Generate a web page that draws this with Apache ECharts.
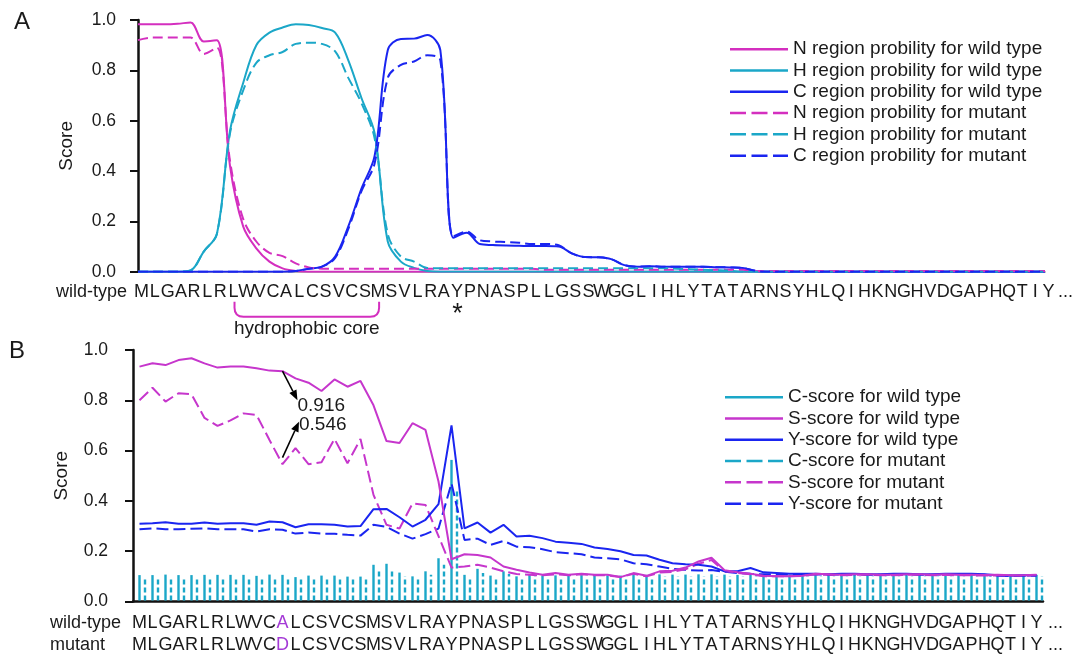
<!DOCTYPE html>
<html>
<head>
<meta charset="utf-8">
<script src="https://cdn.jsdelivr.net/npm/echarts@6/dist/echarts.min.js"></script>
<style>
html, body { margin: 0; padding: 0; background: #ffffff; }
#chart { width: 1081px; height: 654px; }
</style>
</head>
<body>
<div id="chart"></div>
<script>
// ---------------- sequences (x tick labels) ----------------
const wildType = ['M','L','G','A','R','L','R','L','W','V',
                  'C','A','L','C','S','V','C','S','M','S',
                  'V','L','R','A','Y','P','N','A','S','P',
                  'L','L','G','S','S','W','G','G','L','I',
                  'H','L','Y','T','A','T','A','R','N','S',
                  'Y','H','L','Q','I','H','K','N','G','H',
                  'V','D','G','A','P','H','Q','T','I','Y'];
const mutantSeq = ['M','L','G','A','R','L','R','L','W','V',
                   'C','D','L','C','S','V','C','S','M','S',
                   'V','L','R','A','Y','P','N','A','S','P',
                   'L','L','G','S','S','W','G','G','L','I',
                   'H','L','Y','T','A','T','A','R','N','S',
                   'Y','H','L','Q','I','H','K','N','G','H',
                   'V','D','G','A','P','H','Q','T','I','Y'];
const yTickLabels = ['0.0', '0.2', '0.4', '0.6', '0.8', '1.0'];

// ---------------- Panel A : region probabilities ----------------
const nRegionWild = [0.983,0.983,0.983,0.985,0.99,0.915,0.92,0.42,0.18,0.093,
                     0.04,0.013,0.003,0,0,0,0,0,0,0,
                     0,0,0,0,0,0,0,0,0,0,
                     0,0,0,0,0,0,0,0,0,0,
                     0,0,0,0,0,0,0,0,0,0,
                     0,0,0,0,0,0,0,0,0,0,
                     0,0,0,0,0,0,0,0,0,0];
const hRegionWild = [0,0,0,0,0.005,0.08,0.15,0.56,0.75,0.9,
                     0.95,0.97,0.983,0.98,0.968,0.95,0.84,0.69,0.55,0.12,
                     0.04,0.015,0.003,0,0,0,0,0,0,0,
                     0,0,0,0,0,0,0,0,0,0,
                     0,0,0,0,0,0,0,0,0,0,
                     0,0,0,0,0,0,0,0,0,0,
                     0,0,0,0,0,0,0,0,0,0];
const cRegionWild = [0,0,0,0,0,0,0,0,0,0,
                     0,0,0.003,0.012,0.02,0.06,0.18,0.33,0.46,0.88,
                     0.925,0.926,0.94,0.88,0.135,0.155,0.11,0.106,0.104,0.103,
                     0.102,0.102,0.1,0.073,0.058,0.057,0.05,0.026,0.02,0.022,
                     0.02,0.02,0.02,0.02,0.018,0.017,0.015,0.003,0,0,
                     0,0,0,0,0,0,0,0,0,0,
                     0,0,0,0,0,0,0,0,0,0];
const nRegionMutant = [0.92,0.93,0.93,0.93,0.93,0.865,0.89,0.44,0.21,0.12,
                       0.075,0.062,0.033,0.017,0.012,0.012,0.012,0.012,0.012,0.012,
                       0.012,0.012,0.012,0.012,0.012,0.012,0.012,0.012,0.012,0.012,
                       0.012,0.008,0.008,0.008,0.008,0.008,0.008,0.008,0.008,0.008,
                       0.008,0.008,0.008,0.008,0.008,0.008,0.008,0.003,0.003,0.003,
                       0.003,0.003,0.003,0.003,0.003,0.003,0.003,0.003,0.003,0.003,
                       0.003,0.003,0.003,0.003,0.003,0.003,0.003,0.003,0.003,0.003];
const hRegionMutant = [0,0,0,0,0.005,0.08,0.15,0.55,0.72,0.83,
                       0.86,0.873,0.905,0.91,0.905,0.875,0.77,0.67,0.53,0.15,
                       0.06,0.04,0.015,0.014,0.014,0.014,0.014,0.014,0.014,0.014,
                       0.014,0.014,0.014,0.014,0.014,0.014,0.014,0.014,0.014,0.014,
                       0.014,0.012,0.01,0.008,0.006,0.004,0,0,0,0,
                       0,0,0,0,0,0,0,0,0,0,
                       0,0,0,0,0,0,0,0,0,0];
const cRegionMutant = [0,0,0,0,0,0,0,0,0,0,
                       0,0,0.003,0.012,0.02,0.055,0.17,0.32,0.43,0.77,
                       0.822,0.835,0.86,0.84,0.14,0.16,0.125,0.12,0.118,0.115,
                       0.11,0.11,0.105,0.073,0.058,0.057,0.05,0.026,0.02,0.022,
                       0.02,0.02,0.02,0.02,0.018,0.017,0.015,0.003,0,0,
                       0,0,0,0,0,0,0,0,0,0,
                       0,0,0,0,0,0,0,0,0,0];

// ---------------- Panel B : C / S / Y scores ----------------
const cScoreWild = [0.105,0.105,0.107,0.105,0.105,0.106,0.106,0.106,0.106,0.102,
                    0.107,0.106,0.097,0.103,0.103,0.103,0.099,0.099,0.146,0.15,
                    0.115,0.1,0.12,0.172,0.563,0.106,0.13,0.103,0.12,0.1,
                    0.109,0.104,0.104,0.104,0.105,0.104,0.104,0.103,0.106,0.106,
                    0.108,0.107,0.107,0.108,0.108,0.107,0.106,0.107,0.107,0.106,
                    0.106,0.107,0.106,0.106,0.107,0.106,0.106,0.107,0.106,0.106,
                    0.107,0.106,0.106,0.107,0.106,0.106,0.106,0.107,0.106,0.106];
const sScoreWild = [0.934,0.947,0.94,0.96,0.967,0.947,0.93,0.934,0.934,0.927,
                    0.918,0.916,0.887,0.87,0.837,0.883,0.854,0.877,0.78,0.638,
                    0.63,0.709,0.682,0.477,0.168,0.188,0.185,0.175,0.139,0.126,
                    0.115,0.106,0.113,0.106,0.11,0.106,0.106,0.097,0.113,0.102,
                    0.12,0.122,0.135,0.159,0.174,0.124,0.116,0.11,0.102,0.1,
                    0.1,0.102,0.11,0.108,0.106,0.108,0.108,0.106,0.106,0.108,
                    0.108,0.106,0.108,0.106,0.106,0.105,0.106,0.104,0.104,0.106];
const yScoreWild = [0.309,0.311,0.315,0.309,0.309,0.314,0.309,0.311,0.311,0.305,
                    0.318,0.315,0.295,0.307,0.307,0.305,0.298,0.3,0.367,0.368,
                    0.335,0.298,0.325,0.387,0.7,0.291,0.314,0.274,0.305,0.258,
                    0.261,0.252,0.238,0.234,0.229,0.215,0.209,0.2,0.185,0.183,
                    0.166,0.152,0.148,0.146,0.139,0.12,0.12,0.133,0.116,0.113,
                    0.11,0.11,0.11,0.108,0.11,0.11,0.108,0.108,0.11,0.11,
                    0.108,0.108,0.11,0.11,0.11,0.108,0.104,0.103,0.104,0.104];
const cScoreMutant = [0.095,0.095,0.097,0.095,0.095,0.096,0.095,0.096,0.095,0.093,
                      0.096,0.095,0.09,0.094,0.094,0.094,0.091,0.091,0.126,0.13,
                      0.1,0.095,0.106,0.146,0.44,0.095,0.113,0.095,0.109,0.095,
                      0.1,0.097,0.097,0.097,0.098,0.097,0.097,0.096,0.099,0.099,
                      0.1,0.1,0.1,0.1,0.1,0.1,0.1,0.1,0.1,0.1,
                      0.1,0.1,0.1,0.1,0.1,0.1,0.1,0.1,0.1,0.1,
                      0.1,0.1,0.1,0.1,0.1,0.1,0.1,0.1,0.1,0.1];
const sScoreMutant = [0.8,0.85,0.795,0.828,0.824,0.73,0.698,0.72,0.748,0.742,
                      0.642,0.546,0.61,0.546,0.554,0.646,0.55,0.646,0.424,0.305,
                      0.29,0.39,0.384,0.26,0.135,0.139,0.146,0.135,0.12,0.109,
                      0.106,0.104,0.108,0.104,0.108,0.104,0.104,0.097,0.11,0.1,
                      0.115,0.118,0.128,0.15,0.165,0.12,0.114,0.108,0.1,0.1,
                      0.1,0.102,0.108,0.106,0.104,0.106,0.106,0.104,0.104,0.106,
                      0.106,0.104,0.106,0.104,0.104,0.103,0.104,0.102,0.102,0.104];
const yScoreMutant = [0.287,0.291,0.287,0.287,0.289,0.291,0.287,0.287,0.287,0.278,
                      0.287,0.285,0.27,0.274,0.27,0.269,0.265,0.262,0.305,0.297,
                      0.27,0.25,0.268,0.29,0.47,0.245,0.25,0.225,0.241,0.218,
                      0.216,0.208,0.196,0.192,0.188,0.175,0.172,0.168,0.152,0.148,
                      0.139,0.13,0.126,0.123,0.125,0.118,0.113,0.11,0.108,0.108,
                      0.106,0.106,0.108,0.106,0.108,0.108,0.106,0.106,0.108,0.108,
                      0.106,0.106,0.108,0.108,0.108,0.106,0.102,0.101,0.102,0.102];

// ---------------- annotations ----------------
const hydrophobicCore = [7, 18];      // residue indices L7 .. M18
const cleavageSite = 24;              // Y marked with *
const mutationIndex = 11;             // A12D
const mutationScores = [0.916, 0.546];
const mutationLabels = ['0.916', '0.546'];

// ---------------- styling ----------------
const FONT = '"Liberation Sans", Arial, Helvetica, sans-serif';
const TXT = '#1a1a1a';
const MAG_A = '#d42fbf';
const MAG_B = '#c636cc';
const CYAN = '#1ba7c8';
const BLUE = '#1a25f0';
const PURPLE = '#a43ad6';
const SOLID_ICON = 'path://M0 0H58V2.5H0Z';
const DASH_ICON = 'path://M0 0H16V2.5H0Z M21.5 0H37.5V2.5H21.5Z M43 0H58V2.5H43Z';

const idx = wildType.map((c, i) => String(i));

function lineA(name, data, color, dashed) {
  return {
    type: 'line', name: name, xAxisIndex: 0, yAxisIndex: 0, data: data,
    symbol: 'none', smooth: 0.35, z: 3,
    itemStyle: { color: color },
    lineStyle: { color: color, width: 2, type: dashed ? [10, 5] : 'solid' },
    emphasis: { disabled: true }
  };
}
function lineB(name, data, color, dashed) {
  return {
    type: 'line', name: name, xAxisIndex: 1, yAxisIndex: 1, data: data,
    symbol: 'none', smooth: false, z: 3,
    itemStyle: { color: color },
    lineStyle: { color: color, width: 2, type: dashed ? [12, 5] : 'solid' },
    emphasis: { disabled: true }
  };
}
function cBars(name, data, dx, dash) {
  return {
    type: 'custom', name: name, xAxisIndex: 1, yAxisIndex: 1, z: 2,
    itemStyle: { color: CYAN },
    data: data.map((v, i) => [i, v]),
    encode: { x: 0, y: 1 },
    renderItem: function (params, api) {
      const i = params.dataIndex;
      const v = api.value(1);
      const p0 = api.coord([i, 0]);
      const p1 = api.coord([i, v]);
      return {
        type: 'line',
        shape: { x1: p0[0] + dx, y1: p0[1] - 1, x2: p1[0] + dx, y2: p1[1] },
        style: { stroke: CYAN, lineWidth: 2.4, lineDash: dash }
      };
    }
  };
}
function arrow(x1, y1, x2, y2) {
  const dx = x2 - x1, dy = y2 - y1, L = Math.hypot(dx, dy);
  const ux = dx / L, uy = dy / L, nx = -uy, ny = ux;
  const bx = x2 - ux * 10, by = y2 - uy * 10;
  return [
    { type: 'line', shape: { x1: x1, y1: y1, x2: bx, y2: by }, style: { stroke: '#000', lineWidth: 1.6 } },
    { type: 'polygon', shape: { points: [[x2, y2], [bx + nx * 4, by + ny * 4], [bx - nx * 4, by - ny * 4]] }, style: { fill: '#000' } }
  ];
}

const yAxisCommon = {
  type: 'value', min: 0, max: 1, interval: 0.2,
  name: 'Score', nameLocation: 'middle', nameGap: 62,
  nameTextStyle: { fontSize: 19, color: TXT, fontFamily: FONT },
  axisLine: { show: true, lineStyle: { color: '#111', width: 2.5 } },
  axisTick: { show: true, length: 8, lineStyle: { color: '#111', width: 2 } },
  splitLine: { show: false },
  axisLabel: { fontSize: 17.5, color: TXT, fontFamily: FONT,
               formatter: v => yTickLabels[Math.round(v / 0.2)] }
};

const legendCommon = {
  orient: 'vertical', itemWidth: 58, itemHeight: 2.5, itemGap: 0, padding: 0,
  selectedMode: false,
  itemStyle: { borderWidth: 0 },
  textStyle: { fontSize: 19, lineHeight: 21.3, color: TXT, fontFamily: FONT }
};

const chart = echarts.init(document.getElementById('chart'), null, { renderer: 'canvas' });

const option = {
  animation: false,
  backgroundColor: '#ffffff',
  textStyle: { fontFamily: FONT },
  grid: [
    { left: 138, top: 20, width: 907, height: 251.7 },
    { left: 133, top: 350, width: 910, height: 251.7 }
  ],
  xAxis: [
    {
      gridIndex: 0, type: 'category', data: idx, boundaryGap: false,
      axisLine: { lineStyle: { color: '#b3b3b3', width: 2 } },
      axisTick: { show: false },
      splitLine: { show: false },
      axisLabel: {
        interval: 0, margin: 9, fontSize: 18, color: TXT, fontFamily: FONT,
        formatter: (v, i) => '{w|' + wildType[i] + '}',
        rich: { w: { fontSize: 18, lineHeight: 22, color: TXT, fontFamily: FONT, padding: [0, 0, 0, 7] } }
      }
    },
    {
      gridIndex: 1, type: 'category', data: idx, boundaryGap: true,
      axisLine: { lineStyle: { color: '#111', width: 2.5 } },
      axisTick: { show: false },
      splitLine: { show: false },
      axisLabel: {
        interval: 0, margin: 10.5, fontSize: 18, color: TXT, fontFamily: FONT,
        formatter: (v, i) => wildType[i] !== mutantSeq[i]
          ? '{p|' + wildType[i] + '}\n{p|' + mutantSeq[i] + '}'
          : '{w|' + wildType[i] + '}\n{w|' + mutantSeq[i] + '}',
        rich: {
          w: { fontSize: 18, lineHeight: 22, color: TXT, fontFamily: FONT },
          p: { fontSize: 18, lineHeight: 22, color: PURPLE, fontFamily: FONT }
        }
      }
    }
  ],
  yAxis: [
    Object.assign({ gridIndex: 0 }, yAxisCommon, { axisLabel: Object.assign({}, yAxisCommon.axisLabel, { margin: 22 }) }),
    Object.assign({ gridIndex: 1 }, yAxisCommon, { axisLabel: Object.assign({}, yAxisCommon.axisLabel, { margin: 25 }) })
  ],
  legend: [
    Object.assign({}, legendCommon, {
      left: 730, top: 38.5,
      data: [
        { name: 'N region probility for wild type', icon: SOLID_ICON },
        { name: 'H region probility for wild type', icon: SOLID_ICON },
        { name: 'C region probility for wild type', icon: SOLID_ICON },
        { name: 'N region probility for mutant', icon: DASH_ICON },
        { name: 'H region probility for mutant', icon: DASH_ICON },
        { name: 'C region probility for mutant', icon: DASH_ICON }
      ]
    }),
    Object.assign({}, legendCommon, {
      left: 725, top: 386.5,
      data: [
        { name: 'C-score for wild type', icon: SOLID_ICON },
        { name: 'S-score for wild type', icon: SOLID_ICON },
        { name: 'Y-score for wild type', icon: SOLID_ICON },
        { name: 'C-score for mutant', icon: DASH_ICON },
        { name: 'S-score for mutant', icon: DASH_ICON },
        { name: 'Y-score for mutant', icon: DASH_ICON }
      ]
    })
  ],
  graphic: [
    { type: 'text', left: 14, top: 10, style: { text: 'A', font: '24px ' + FONT, fill: TXT } },
    { type: 'text', left: 9, top: 339, style: { text: 'B', font: '24px ' + FONT, fill: TXT } },
    { type: 'text', x: 127, y: 292, style: { text: 'wild-type', font: '18px ' + FONT, fill: TXT, align: 'right', verticalAlign: 'middle' } },
    { type: 'text', x: 1058, y: 292, style: { text: '...', font: '18px ' + FONT, fill: TXT, align: 'left', verticalAlign: 'middle' } },
    { type: 'text', x: 50, y: 623.5, style: { text: 'wild-type', font: '18px ' + FONT, fill: TXT, align: 'left', verticalAlign: 'middle' } },
    { type: 'text', x: 50, y: 645.5, style: { text: 'mutant', font: '18px ' + FONT, fill: TXT, align: 'left', verticalAlign: 'middle' } },
    { type: 'text', x: 1048, y: 623.5, style: { text: '...', font: '18px ' + FONT, fill: TXT, align: 'left', verticalAlign: 'middle' } },
    { type: 'text', x: 1048, y: 645.5, style: { text: '...', font: '18px ' + FONT, fill: TXT, align: 'left', verticalAlign: 'middle' } }
  ],
  series: [
    lineA('N region probility for wild type', nRegionWild, MAG_A, false),
    lineA('H region probility for wild type', hRegionWild, CYAN, false),
    lineA('C region probility for wild type', cRegionWild, BLUE, false),
    lineA('N region probility for mutant', nRegionMutant, MAG_A, true),
    lineA('H region probility for mutant', hRegionMutant, CYAN, true),
    lineA('C region probility for mutant', cRegionMutant, BLUE, true),
    // panel A annotations: hydrophobic core bracket and cleavage asterisk
    {
      type: 'custom', xAxisIndex: 0, yAxisIndex: 0, silent: true, z: 5,
      data: [[hydrophobicCore[0], 0]],
      renderItem: function (params, api) {
        const a = api.coord([hydrophobicCore[0], 0]);
        const b = api.coord([hydrophobicCore[1], 0]);
        const s = api.coord([cleavageSite, 0]);
        const x1 = a[0] + 4.5, x2 = b[0] + 4.5, y0 = a[1] + 30, y1 = a[1] + 45, r = 9;
        return {
          type: 'group',
          children: [
            { type: 'path',
              shape: { pathData: 'M' + x1 + ' ' + y0 + ' L' + x1 + ' ' + (y1 - r) + ' Q' + x1 + ' ' + y1 + ' ' + (x1 + r) + ' ' + y1 +
                                 ' L' + (x2 - r) + ' ' + y1 + ' Q' + x2 + ' ' + y1 + ' ' + x2 + ' ' + (y1 - r) + ' L' + x2 + ' ' + y0 },
              style: { stroke: MAG_A, lineWidth: 2, fill: 'none' } },
            { type: 'text', x: (x1 + x2) / 2, y: a[1] + 57,
              style: { text: 'hydrophobic core', font: '19px ' + FONT, fill: TXT, align: 'center', verticalAlign: 'middle' } },
            { type: 'text', x: s[0] + 4, y: a[1] + 43,
              style: { text: '*', font: '27px ' + FONT, fill: TXT, align: 'center', verticalAlign: 'middle' } }
          ]
        };
      }
    },
    // panel B
    cBars('C-score for wild type', cScoreWild, 0, null),
    cBars('C-score for mutant', cScoreMutant, 5.5, [5, 3]),
    lineB('Y-score for mutant', yScoreMutant, BLUE, true),
    lineB('S-score for mutant', sScoreMutant, MAG_B, true),
    lineB('Y-score for wild type', yScoreWild, BLUE, false),
    lineB('S-score for wild type', sScoreWild, MAG_B, false),
    // panel B annotations: arrows to the mutated residue scores
    {
      type: 'custom', xAxisIndex: 1, yAxisIndex: 1, silent: true, z: 6,
      data: [[mutationIndex, mutationScores[0], mutationScores[1]]],
      renderItem: function (params, api) {
        const p = api.coord([mutationIndex, mutationScores[0]]);
        const q = api.coord([mutationIndex, mutationScores[1]]);
        const kids = []
          .concat(arrow(p[0], p[1], p[0] + 15, p[1] + 29))
          .concat(arrow(p[0], q[1] - 6.5, p[0] + 16.5, q[1] - 42.5));
        kids.push({ type: 'text', x: p[0] + 15, y: p[1] + 34.5,
          style: { text: mutationLabels[0], font: '19px ' + FONT, fill: TXT, align: 'left', verticalAlign: 'middle' } });
        kids.push({ type: 'text', x: p[0] + 16.5, y: q[1] - 39.5,
          style: { text: mutationLabels[1], font: '19px ' + FONT, fill: TXT, align: 'left', verticalAlign: 'middle' } });
        return { type: 'group', children: kids };
      }
    }
  ]
};

chart.setOption(option);
</script>
</body>
</html>
